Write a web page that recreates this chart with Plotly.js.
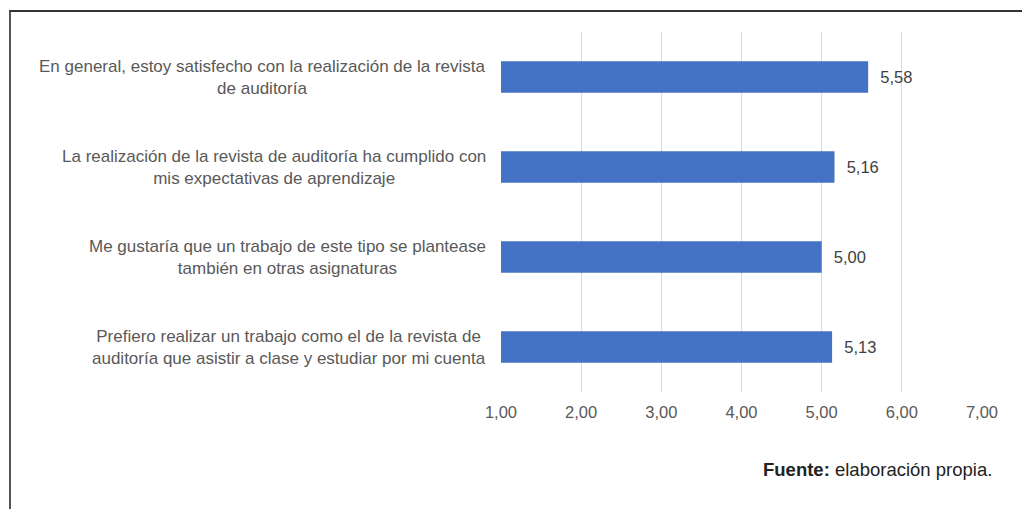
<!DOCTYPE html>
<html>
<head>
<meta charset="utf-8">
<script src="https://cdn.plot.ly/plotly-3.0.1.min.js"></script>
<style>
html,body{margin:0;padding:0;background:#fff;}
#wrap{position:relative;width:1022px;height:509px;}
#chart{width:1022px;height:509px;}
#frame{position:absolute;left:9px;top:10px;width:1013px;height:499px;border-top:2px solid #333;border-left:2px solid #555;pointer-events:none;}
</style>
</head>
<body>
<div id="wrap"><div id="chart"></div><div id="frame"></div></div>
<script>
const categories = [
  "En general, estoy satisfecho con la realización de la revista<br>de auditoría",
  "La realización de la revista de auditoría ha cumplido con<br>mis expectativas de aprendizaje",
  "Me gustaría que un trabajo de este tipo se plantease<br>también en otras asignaturas",
  "Prefiero realizar un trabajo como el de la revista de<br>auditoría que asistir a clase y estudiar por mi cuenta"
];
const values = [5.58, 5.16, 5.00, 5.13];
const tickValues = [1, 2, 3, 4, 5, 6, 7];
const sourceLabel = "<b>Fuente:</b> elaboración propia.";

const ids = categories.map((c, i) => "c" + i);
const FONT = "Liberation Sans, Arial, sans-serif";

const trace = {
  type: "bar",
  orientation: "h",
  y: ids,
  x: values,
  marker: {color: "#4472C4"},
  texttemplate: "\u00a0\u00a0%{x:.2f}",
  textposition: "outside",
  textfont: {family: FONT, size: 16.5, color: "#404040"},
  cliponaxis: false,
  hoverinfo: "none"
};

const annotations = categories.map((c, i) => ({
  xref: "paper", yref: "y",
  x: -0.027, y: ids[i],
  xanchor: "right", yanchor: "middle",
  align: "center",
  text: c,
  showarrow: false,
  font: {family: FONT, size: 17, color: "#595959"}
}));
annotations.push({
  xref: "paper", yref: "paper",
  x: 1.025, y: -0.215,
  xanchor: "right", yanchor: "middle",
  text: sourceLabel,
  showarrow: false,
  font: {family: FONT, size: 18.5, color: "#222"}
});

const layout = {
  width: 1022, height: 509,
  margin: {l: 501, r: 40, t: 32, b: 117},
  paper_bgcolor: "#fff", plot_bgcolor: "#fff",
  separators: ",.",
  bargap: 0.65,
  showlegend: false,
  xaxis: {
    range: [1, 7],
    tickvals: tickValues,
    tickformat: ".2f",
    showgrid: true, gridcolor: "#d9d9d9", gridwidth: 1.3,
    zeroline: false, showline: false,
    ticks: "", ticklabelstandoff: 8,
    tickfont: {family: FONT, size: 16.5, color: "#595959"},
    fixedrange: true
  },
  yaxis: {
    autorange: "reversed",
    showticklabels: false,
    showgrid: false, zeroline: false, showline: false, ticks: "",
    fixedrange: true
  },
  annotations: annotations
};

Plotly.newPlot("chart", [trace], layout, {displayModeBar: false, staticPlot: true});
</script>
</body>
</html>
